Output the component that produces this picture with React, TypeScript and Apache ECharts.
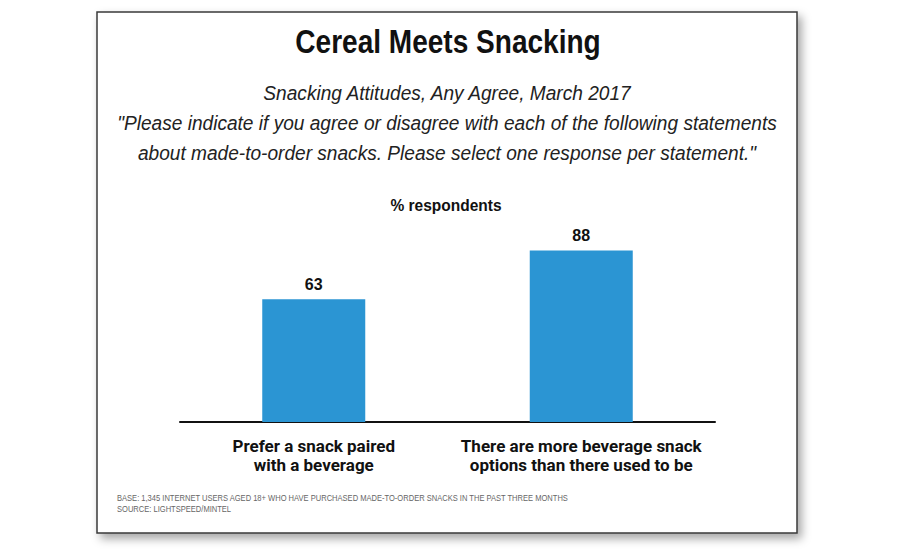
import React, { useEffect, useRef } from "react";
import * as echarts from "echarts";

const categories = [
  "Prefer a snack paired\nwith a beverage",
  "There are more beverage snack\noptions than there used to be",
];
const values = [63, 88];
const titleText = "Cereal Meets Snacking";
const subtitleLines = [
  "Snacking Attitudes, Any Agree, March 2017",
  "\"Please indicate if you agree or disagree with each of the following statements",
  "about made-to-order snacks. Please select one response per statement.\"",
];
const unitText = "% respondents";
const footLines = [
  "BASE: 1,345 INTERNET USERS AGED 18+ WHO HAVE PURCHASED MADE-TO-ORDER SNACKS IN THE PAST THREE MONTHS",
  "SOURCE: LIGHTSPEED/MINTEL",
];

const SANS = "'Liberation Sans', Arial, sans-serif";

export default function App() {
  const ref = useRef<HTMLDivElement>(null);
  useEffect(() => {
    if (!ref.current) return;
    const chart = echarts.init(ref.current, null, { renderer: "svg" });
    chart.setOption({
      animation: false,
      backgroundColor: "#ffffff",
      graphic: [
        {
          type: "rect",
          z: -10,
          shape: { x: 97, y: 12, width: 700, height: 521 },
          style: {
            fill: "#ffffff",
            stroke: "#3a3a3a",
            lineWidth: 1.5,
            shadowBlur: 10,
            shadowOffsetX: 4,
            shadowOffsetY: 5,
            shadowColor: "rgba(0,0,0,0.35)",
          },
        },
        {
          type: "text",
          x: 448,
          y: 41,
          scaleX: 0.85,
          style: {
            text: titleText,
            fontFamily: SANS,
            fontWeight: "bold",
            fontSize: 33,
            fill: "#111111",
            align: "center",
            verticalAlign: "middle",
          },
        },
        {
          type: "text",
          x: 447,
          y: 123,
          scaleX: 0.91,
          style: {
            text: subtitleLines.join("\n"),
            fontFamily: SANS,
            fontStyle: "italic",
            fontSize: 21,
            lineHeight: 30,
            fill: "#222222",
            align: "center",
            verticalAlign: "middle",
          },
        },
        {
          type: "text",
          x: 446,
          y: 205,
          scaleX: 0.97,
          style: {
            text: unitText,
            fontFamily: SANS,
            fontWeight: "bold",
            fontSize: 16,
            fill: "#111111",
            align: "center",
            verticalAlign: "middle",
          },
        },
        {
          type: "text",
          x: 117,
          y: 503,
          scaleX: 0.84,
          style: {
            text: footLines.join("\n"),
            fontFamily: SANS,
            fontSize: 9,
            lineHeight: 11,
            fill: "#666666",
            align: "left",
            verticalAlign: "middle",
          },
        },
      ],
      grid: { left: 180, right: 185, top: 227, bottom: 128, containLabel: false },
      xAxis: {
        type: "category",
        data: categories,
        axisLine: { show: true, lineStyle: { color: "#111111", width: 2 } },
        axisTick: { show: false },
        axisLabel: {
          interval: 0,
          margin: 14,
          fontFamily: "Roboto, sans-serif",
          fontWeight: "bold",
          fontSize: 17,
          lineHeight: 19,
          color: "#111111",
        },
      },
      yAxis: {
        type: "value",
        min: 0,
        max: 100,
        show: false,
        splitLine: { show: false },
      },
      series: [
        {
          type: "bar",
          data: values,
          barWidth: 103,
          itemStyle: { color: "#2B95D3" },
          label: {
            show: true,
            position: "top",
            distance: 7,
            fontFamily: SANS,
            fontWeight: "bold",
            fontSize: 16,
            color: "#111111",
          },
        },
      ],
    });
    return () => chart.dispose();
  }, []);
  return (
    <div
      ref={ref}
      style={{ position: "absolute", left: 0, top: 0, width: 900, height: 550 }}
    />
  );
}
